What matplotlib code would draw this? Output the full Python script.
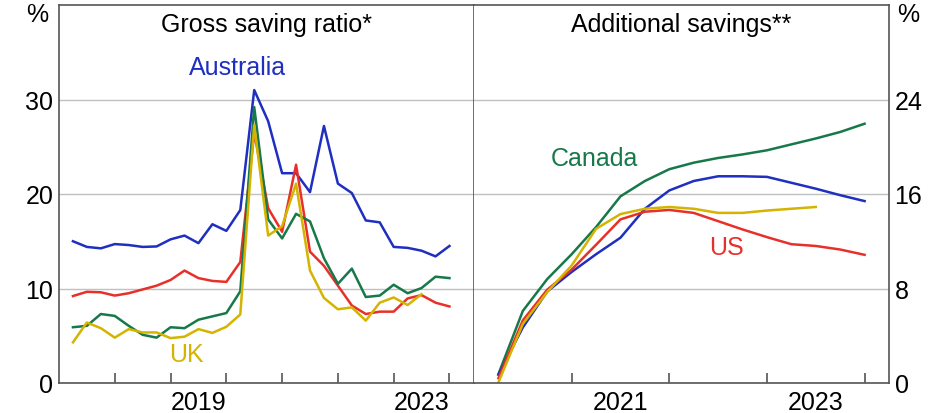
import matplotlib
matplotlib.use("Agg")
import matplotlib.pyplot as plt
import numpy as np

plt.rcParams['font.family'] = ['Liberation Sans', 'DejaVu Sans']

# Left panel: gross saving ratio, quarterly Q1 2017 - Q4 2023 (plotted at quarter end)
left_years = [2017 + (q + 1) / 4 for q in range(28)]
aus_ratio = [15.0, 14.4, 14.25, 14.7, 14.6, 14.4, 14.45, 15.2, 15.6, 14.8, 16.8, 16.1, 18.3, 31.0,
             27.7, 22.2, 22.2, 20.2, 27.2, 21.1, 20.1, 17.2, 17.0, 14.4, 14.3, 14.0, 13.4, 14.5]
us_ratio = [9.2, 9.65, 9.6, 9.25, 9.5, 9.9, 10.3, 10.9, 11.9, 11.1, 10.8, 10.7, 12.8, 26.5,
            18.5, 16.0, 23.1, 13.9, 12.4, 10.3, 8.2, 7.3, 7.55, 7.55, 8.95, 9.3, 8.5, 8.1]
can_ratio = [5.9, 6.05, 7.3, 7.1, 6.05, 5.1, 4.8, 5.9, 5.8, 6.7, 7.05, 7.4, 9.7, 29.2,
             17.3, 15.3, 17.9, 17.1, 13.2, 10.5, 12.1, 9.1, 9.25, 10.4, 9.5, 10.05, 11.25, 11.1]
uk_ratio = [4.3, 6.4, 5.8, 4.8, 5.7, 5.35, 5.35, 4.75, 4.9, 5.7, 5.3, 5.95, 7.25, 27.3,
            15.6, 16.6, 21.1, 11.9, 9.0, 7.8, 8.0, 6.6, 8.5, 9.05, 8.25, 9.4]

# Right panel: additional savings, Q1 2020 - Q4 2023
right_years = [2020 + (q + 1) / 4 for q in range(16)]
can_add = [0.75, 6.1, 8.8, 10.9, 13.2, 15.8, 17.1, 18.1, 18.65, 19.05, 19.35, 19.7, 20.2, 20.7, 21.25, 21.95]
aus_add = [0.7, 4.7, 7.75, 9.4, 10.9, 12.3, 14.75, 16.3, 17.1, 17.5, 17.5, 17.45, 16.95, 16.45, 15.9, 15.4]
us_add = [0.4, 5.3, 7.9, 9.6, 11.7, 13.85, 14.5, 14.65, 14.4, 13.7, 13.0, 12.35, 11.75, 11.6, 11.3, 10.85]
uk_add = [0.05, 5.0, 7.7, 9.95, 13.05, 14.3, 14.75, 14.9, 14.75, 14.4, 14.4, 14.6, 14.75, 14.9]

left_yticks = [0, 10, 20, 30]
right_yticks = [0, 8, 16, 24]

BLUE = '#1f2fbf'
RED = '#e8302a'
GREEN = '#17784a'
YELLOW = '#d4b400'
SPINE = '#555555'
GRID = '#c0c0c0'

W, H = 934, 414
fig = plt.figure(figsize=(W / 100, H / 100), dpi=100)
x0, xm, x1 = 59, 474, 889
ytop, ybot = 6, 384
axL = fig.add_axes([x0 / W, 1 - ybot / H, (xm - x0) / W, (ybot - ytop) / H])
axR = fig.add_axes([xm / W, 1 - ybot / H, (x1 - xm) / W, (ybot - ytop) / H])

fs = 18
lw = 1.8

for ax in (axL, axR):
    for s in ax.spines.values():
        s.set_color(SPINE)
        s.set_linewidth(1.2)
    ax.tick_params(axis='x', direction='in', length=7, width=1.2, color=SPINE, labelbottom=False)
    ax.tick_params(axis='y', length=0, labelsize=fs, colors='black')
    ax.set_axisbelow(True)

# Left
axL.plot(left_years, aus_ratio, color=BLUE, lw=lw)
axL.plot(left_years, us_ratio, color=RED, lw=lw)
axL.plot(left_years, can_ratio, color=GREEN, lw=lw)
axL.plot(left_years[:len(uk_ratio)], uk_ratio, color=YELLOW, lw=lw)
axL.set_xlim(2017.0, 2024.44)
axL.set_ylim(0, 40)
axL.set_xticks(range(2018, 2025))
axL.set_yticks(left_yticks)
axL.set_yticklabels([str(v) for v in left_yticks])
axL.grid(axis='y', color=GRID, lw=1)
axL.tick_params(axis='y', pad=4)
for yr in (2019, 2023):
    axL.text(yr + 0.5, -0.05, str(yr), transform=axL.get_xaxis_transform(),
             ha='center', va='center', fontsize=fs)
axL.text(0.5, 0.95, 'Gross saving ratio*', transform=axL.transAxes, ha='center', va='center', fontsize=fs)
axL.text(-0.025, 0.975, '%', transform=axL.transAxes, ha='right', va='center', fontsize=fs)
axL.text(2020.2, 33.4, 'Australia', color=BLUE, ha='center', va='center', fontsize=fs)
axL.text(2019.29, 3.1, 'UK', color=YELLOW, ha='center', va='center', fontsize=fs)

# Right
axR.plot(right_years, can_add, color=GREEN, lw=lw)
axR.plot(right_years, aus_add, color=BLUE, lw=lw)
axR.plot(right_years, us_add, color=RED, lw=lw)
axR.plot(right_years[:len(uk_add)], uk_add, color=YELLOW, lw=lw)
axR.set_xlim(2020.0, 2024.25)
axR.set_ylim(0, 32)
axR.set_xticks(range(2021, 2025))
axR.set_yticks(right_yticks)
axR.set_yticklabels([str(v) for v in right_yticks])
axR.yaxis.tick_right()
axR.tick_params(axis='y', pad=4)
axR.grid(axis='y', color=GRID, lw=1)
axR.spines['left'].set_visible(False)
for yr in (2021, 2023):
    axR.text(yr + 0.5, -0.05, str(yr), transform=axR.get_xaxis_transform(),
             ha='center', va='center', fontsize=fs)
axR.text(0.5, 0.95, 'Additional savings**', transform=axR.transAxes, ha='center', va='center', fontsize=fs)
axR.text(1.02, 0.975, '%', transform=axR.transAxes, ha='left', va='center', fontsize=fs)
axR.text(2021.23, 19.05, 'Canada', color=GREEN, ha='center', va='center', fontsize=fs)
axR.text(2022.59, 11.5, 'US', color=RED, ha='center', va='center', fontsize=fs)

fig.savefig('out.png', dpi=100)
